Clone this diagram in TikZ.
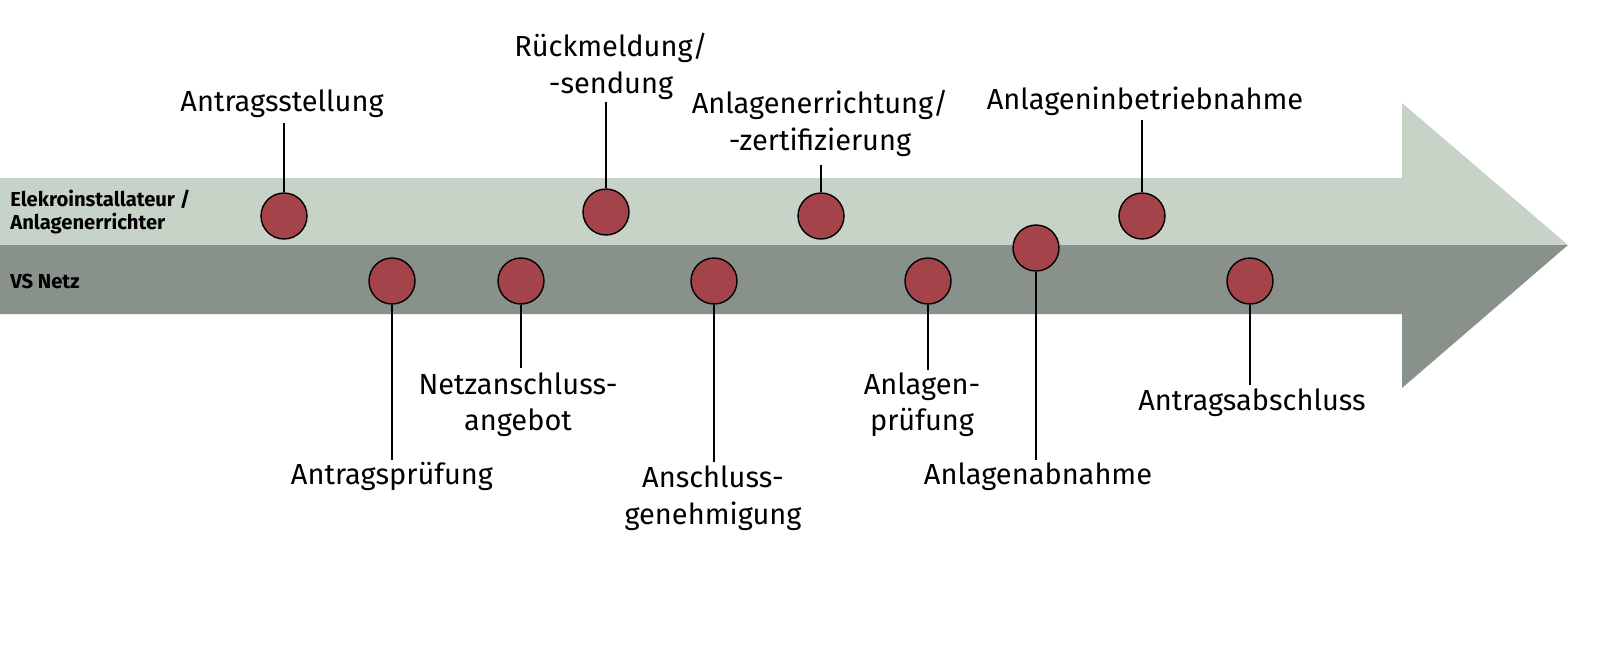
\documentclass[tikz,border=0pt]{standalone}
\usepackage{fontspec}
\setmainfont{Fira Sans}
\definecolor{bandlight}{HTML}{C8D3C8}
\definecolor{banddark}{HTML}{88918A}
\definecolor{dot}{HTML}{A5434B}
\begin{document}
\begin{tikzpicture}[x=0.02cm,y=-0.02cm,
  ev/.style={circle,draw=black,line width=0.8pt,fill=dot,minimum size=0.92cm,inner sep=0pt},
  lbl/.style={font=\fontsize{16.5}{21}\selectfont,align=center,inner sep=0pt},
  band/.style={font=\bfseries\fontsize{11.5}{13.5}\selectfont,align=left,anchor=west,inner sep=0pt},
  stem/.style={line width=0.7pt}]
\useasboundingbox (0,0) rectangle (1600,650);
\fill[bandlight] (0,178) -- (1402,178) -- (1402,103) -- (1568,245) -- (0,245) -- cycle;
\fill[banddark] (0,245) -- (1568,245) -- (1402,388) -- (1402,314) -- (0,314) -- cycle;
\node[band] (r1) at (10,212) {Elekroinstallateur /\\Anlagenerrichter};
\node[band] (r2) at (10,281) {VS Netz};
% events
\node[ev] (e1) at (284,216) {};
\node[ev] (e2) at (392,281) {};
\node[ev] (e3) at (521,281) {};
\node[ev] (e4) at (606,212) {};
\node[ev] (e5) at (714,281) {};
\node[ev] (e6) at (821,216) {};
\node[ev] (e7) at (928,281) {};
\node[ev] (e8) at (1036,248) {};
\node[ev] (e9) at (1142,216) {};
\node[ev] (e10) at (1250,281) {};
% labels
\node[lbl,anchor=south] (l1) at (282,118) {Antragsstellung};
\node[lbl,anchor=north] (l2) at (392,462) {Antragsprüfung};
\node[lbl,anchor=north] (l3) at (518,372) {Netzanschluss-\\angebot};
\node[lbl,anchor=south] (l4) at (611,100) {Rückmeldung/\\-sendung};
\node[lbl,anchor=north] (l5) at (713,465) {Anschluss-\\genehmigung};
\node[lbl,anchor=south] (l6) at (820,157) {Anlagenerrichtung/\\-zertifizierung};
\node[lbl,anchor=north] (l7) at (922,372) {Anlagen-\\prüfung};
\node[lbl,anchor=north] (l8) at (1038,462) {Anlagenabnahme};
\node[lbl,anchor=south] (l9) at (1145,116) {Anlageninbetriebnahme};
\node[lbl,anchor=north] (l10) at (1252,388) {Antragsabschluss};
% stems
\draw[stem] (e1.north) -- (284,123);
\draw[stem] (e2.south) -- (392,460);
\draw[stem] (e3.south) -- (521,368);
\draw[stem] (e4.north) -- (606,102);
\draw[stem] (e5.south) -- (714,462);
\draw[stem] (e6.north) -- (821,165);
\draw[stem] (e7.south) -- (928,370);
\draw[stem] (e8.south) -- (1036,460);
\draw[stem] (e9.north) -- (1142,120);
\draw[stem] (e10.south) -- (1250,385);
\end{tikzpicture}
\end{document}
